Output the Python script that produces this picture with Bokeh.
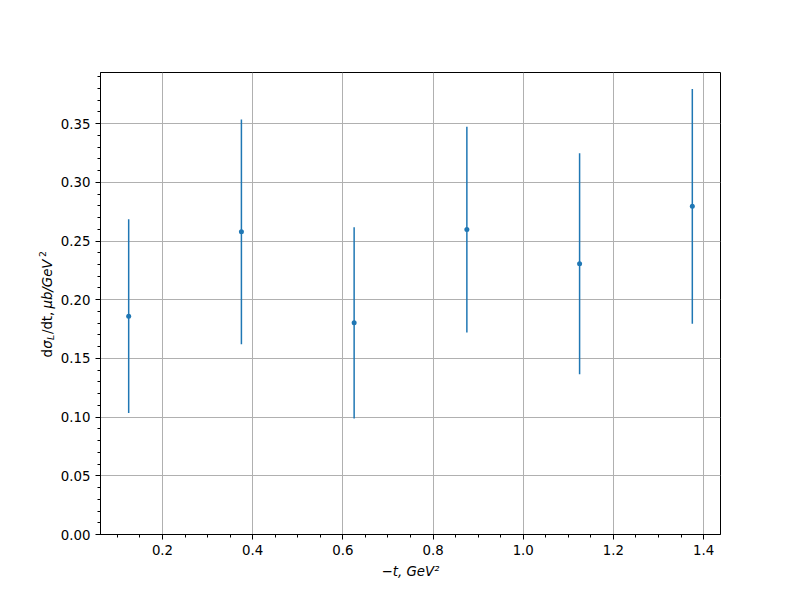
import math
from bokeh.plotting import figure
from bokeh.layouts import row
from bokeh.models import ColumnDataSource, FixedTicker, Range1d, Label
from bokeh.embed import file_html
from bokeh.resources import INLINE

# ---- data ----
t_values = [0.125, 0.375, 0.625, 0.875, 1.125, 1.375]
sigma_L = [0.186, 0.2578, 0.1803, 0.2597, 0.2306, 0.2795]
sigma_err = [0.0825, 0.0958, 0.0815, 0.0876, 0.0942, 0.1000]

x_ticks = [0.2, 0.4, 0.6, 0.8, 1.0, 1.2, 1.4]
x_tick_labels = ["0.2", "0.4", "0.6", "0.8", "1.0", "1.2", "1.4"]
x_minor = [0.1, 0.15, 0.25, 0.3, 0.35, 0.45, 0.5, 0.55, 0.65, 0.7, 0.75, 0.85, 0.9, 0.95,
           1.05, 1.1, 1.15, 1.25, 1.3, 1.35]
y_ticks = [0.0, 0.05, 0.10, 0.15, 0.20, 0.25, 0.30, 0.35]
y_tick_labels = ["0.00", "0.05", "0.10", "0.15", "0.20", "0.25", "0.30", "0.35"]
y_minor = [i / 100 for i in range(0, 40)]

lower = [v - e for v, e in zip(sigma_L, sigma_err)]
upper = [v + e for v, e in zip(sigma_L, sigma_err)]
src = ColumnDataSource(dict(x=t_values, y=sigma_L, lo=lower, hi=upper))

xspan = max(t_values) - min(t_values)
ydmin, ydmax = min(lower), max(upper)
x_range = Range1d(min(t_values) - 0.05 * xspan, max(t_values) + 0.05 * xspan)
y_range = Range1d(0, ydmax + 0.05 * (ydmax - ydmin))

W, H = 800, 600
LW = 56  # width of the side panel holding the y-axis title
TOP, BOTTOM = 72, 66

p = figure(width=W - LW, height=H, output_backend="svg", toolbar_location=None,
           x_range=x_range, y_range=y_range,
           min_border_left=100 - LW, min_border_right=80,
           min_border_top=TOP, min_border_bottom=BOTTOM)
p.background_fill_color = "white"
p.border_fill_color = "white"
p.outline_line_color = "black"
p.outline_line_width = 1

FONT = "DejaVu Sans"
FS = "13.33px"

p.xaxis.ticker = FixedTicker(ticks=x_ticks, minor_ticks=x_minor)
p.yaxis.ticker = FixedTicker(ticks=y_ticks, minor_ticks=y_minor)
p.xaxis.major_label_overrides = {t: l for t, l in zip(x_ticks, x_tick_labels)}
p.yaxis.major_label_overrides = {t: l for t, l in zip(y_ticks, y_tick_labels)}

for ax in (p.xaxis, p.yaxis):
    ax.axis_line_color = "black"
    ax.axis_line_width = 1
    ax.major_tick_line_color = "black"
    ax.minor_tick_line_color = "black"
    ax.major_tick_line_width = 1
    ax.minor_tick_line_width = 1
    ax.major_tick_in = 0
    ax.major_tick_out = 5
    ax.minor_tick_in = 0
    ax.minor_tick_out = 3
    ax.major_label_text_font = FONT
    ax.major_label_text_font_size = FS
    ax.major_label_text_color = "black"
    ax.major_label_standoff = 5
    ax.axis_label_text_font = FONT
    ax.axis_label_text_font_size = FS
    ax.axis_label_text_color = "black"

p.xaxis.axis_label = "\u2212t, GeV\u00b2"
p.xaxis.axis_label_text_font_style = "italic"
p.xaxis.axis_label_standoff = 6

for g in (p.xgrid, p.ygrid):
    g.grid_line_color = "#b0b0b0"
    g.grid_line_width = 1
p.xgrid.ticker = FixedTicker(ticks=x_ticks)
p.ygrid.ticker = FixedTicker(ticks=y_ticks)

p.segment(x0="x", y0="lo", x1="x", y1="hi", source=src, line_color="#1f77b4", line_width=1.5)
p.scatter(x="x", y="y", source=src, size=5, color="#1f77b4", line_width=0)

# ---- side panel with the rotated y-axis title: d σ_L /dt, μb/GeV^2 ----
side = figure(width=LW, height=H, output_backend="svg", toolbar_location=None,
              x_axis_type=None, y_axis_type=None, min_border=0,
              min_border_top=TOP, min_border_bottom=BOTTOM,
              x_range=Range1d(0, LW), y_range=Range1d(0, H - TOP - BOTTOM))
side.outline_line_color = None
side.background_fill_color = "white"
side.border_fill_color = "white"
side.xgrid.visible = False
side.ygrid.visible = False

bx = 47
y0 = 177
pieces = [
    ("d", "normal", FS, 0, 8.8),
    ("\u03c3", "italic", FS, 0, 8.6),
    ("L", "italic", "9.33px", 3, 6.0),
    ("/dt,", "normal", FS, 0, 25.5),
    ("\u03bcb/GeV", "italic", FS, 0, 51.5),
    ("2", "normal", "9.33px", -5, 6),
]
yy = y0
for txt, style, size, dx, w in pieces:
    side.add_layout(Label(x=bx + dx, y=yy, x_units="screen", y_units="screen", text=txt,
                          angle=math.pi / 2, text_font=FONT, text_font_size=size,
                          text_font_style=style, text_color="black",
                          text_align="left", text_baseline="alphabetic"))
    yy += w

layout = row(side, p, spacing=0)
open("out.html", "w").write(file_html(layout, INLINE))
